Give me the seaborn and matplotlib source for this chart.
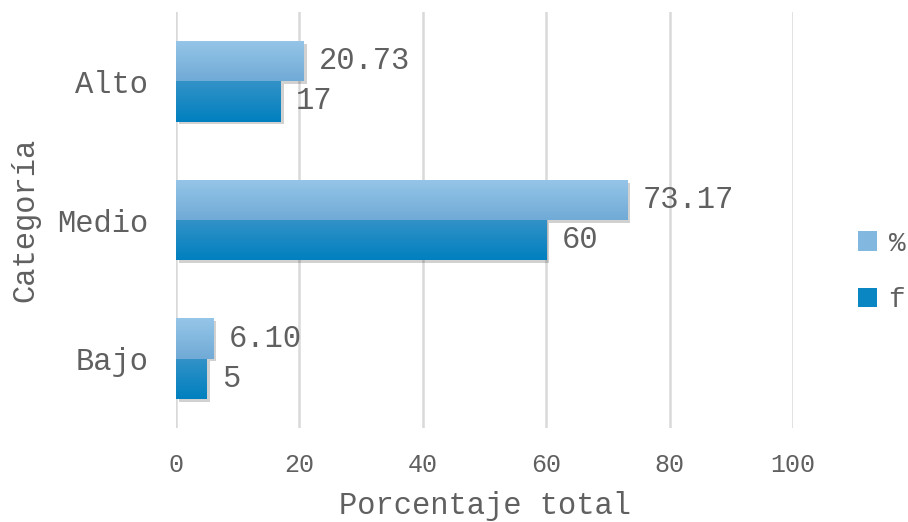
import numpy as np
import pandas as pd
import matplotlib
matplotlib.use("Agg")
import matplotlib.pyplot as plt
import matplotlib.patheffects as pe
from matplotlib.patches import Patch
from matplotlib.colors import to_rgb
import seaborn as sns

categories = ["Alto", "Medio", "Bajo"]
pct_values = [20.73, 73.17, 6.10]
f_values = [17, 60, 5]
pct_labels = ["20.73", "73.17", "6.10"]
f_labels = ["17", "60", "5"]
series = ["%", "f"]
x_ticks = [0, 20, 40, 60, 80, 100]

df = pd.DataFrame({
    "Categoria": categories * 2,
    "Serie": ["%"] * 3 + ["f"] * 3,
    "Valor": pct_values + f_values,
})

sns.set_theme(style="white")
plt.rcParams["font.family"] = ["Liberation Mono", "DejaVu Sans"]
TXT = "#606060"

fig = plt.figure(figsize=(9.08, 5.22), dpi=100)
ax = fig.add_axes([176 / 908, 1 - 428 / 522, (793 - 176) / 908, (428 - 12) / 522])

grad = {"%": ("#96c6e8", "#70aad6"), "f": ("#3392c7", "#0080bf")}
base = {"%": "#82b8e0", "f": "#0a87c3"}

sns.barplot(data=df, y="Categoria", x="Valor", hue="Serie", order=categories,
            hue_order=series, palette=base, width=0.58, orient="h", ax=ax,
            legend=False, zorder=3, linewidth=0, edgecolor="none")

ax.set_xticks(x_ticks)
ax.grid(axis="x", color="#d9d9d9", linewidth=1.8, zorder=0)
ax.set_axisbelow(True)
for s in ax.spines.values():
    s.set_visible(False)

bars = [p for p in ax.patches]
for i, p in enumerate(bars):
    key = series[i // 3]
    c0 = np.array(to_rgb(grad[key][0]))
    c1 = np.array(to_rgb(grad[key][1]))
    t = np.linspace(0, 1, 64)[:, None, None]
    img = c0 * (1 - t) + c1 * t
    x0, y0 = p.get_x(), p.get_y()
    w, h = p.get_width(), p.get_height()
    p.set_linewidth(0)
    p.set_edgecolor("none")
    p.set_path_effects([pe.SimplePatchShadow(offset=(2, -2), shadow_rgbFace="#000000", alpha=0.18), pe.Normal()])
    im = ax.imshow(img, extent=(x0, x0 + w, y0 + h, y0), origin="upper",
                   aspect="auto", zorder=4, interpolation="bilinear")
    im.set_clip_path(p)
ax.set_xlim(0, 100)
ax.set_ylim(2.5, -0.5)

for i, p in enumerate(bars):
    lab = (pct_labels + f_labels)[i]
    ax.annotate(lab, (p.get_x() + p.get_width(), p.get_y() + p.get_height() / 2),
                xytext=(11, 0), textcoords="offset points", va="center", ha="left",
                fontsize=22, color=TXT, zorder=5)

ax.tick_params(axis="y", length=0, pad=20, labelsize=22, labelcolor=TXT)
ax.tick_params(axis="x", length=0, pad=18, labelsize=18, labelcolor=TXT)
ax.set_ylabel("Categoría", fontsize=22, color=TXT, labelpad=12)
ax.set_xlabel("Porcentaje total", fontsize=22, color=TXT, labelpad=10)

handles = [Patch(facecolor="#82b8e0", edgecolor="none"), Patch(facecolor="#0a87c3", edgecolor="none")]
fig.legend(handles, series, loc="center left", bbox_to_anchor=(858 / 908, 1 - 272 / 522),
           frameon=False, fontsize=20, labelcolor=TXT, handlelength=0.7, handleheight=0.7,
           handletextpad=0.4, labelspacing=1.1, borderpad=0, borderaxespad=0)

fig.savefig("out.png", dpi=100)
